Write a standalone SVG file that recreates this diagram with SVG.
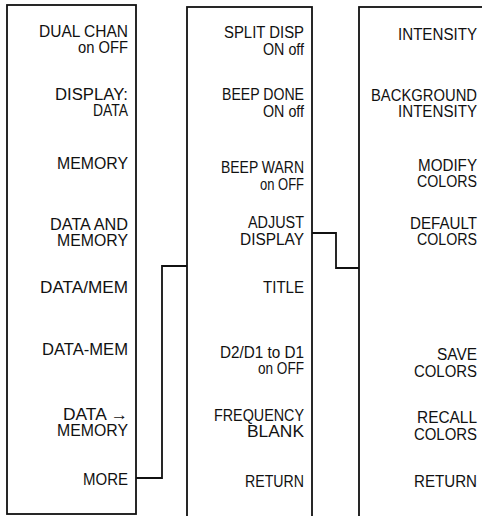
<svg xmlns="http://www.w3.org/2000/svg" width="482" height="516" viewBox="0 0 482 516">
<style>
.box{fill:none;stroke:#111;stroke-width:1.8}
.t{font-family:"Liberation Sans",Arial,sans-serif;font-size:16px;fill:#111;text-anchor:end}
.c{fill:none;stroke:#111;stroke-width:1.8}
</style>
<rect width="482" height="516" fill="#fff"/>
<g id="menu1">
<rect class="box" x="7" y="5" width="129" height="509"/>
<text class="t" x="128" y="37" textLength="89" lengthAdjust="spacingAndGlyphs">DUAL CHAN</text>
<text class="t" x="128" y="53" textLength="50" lengthAdjust="spacingAndGlyphs">on OFF</text>
<text class="t" x="128" y="100" textLength="73" lengthAdjust="spacingAndGlyphs">DISPLAY:</text>
<text class="t" x="128" y="116" textLength="35" lengthAdjust="spacingAndGlyphs">DATA</text>
<text class="t" x="128" y="169" textLength="71" lengthAdjust="spacingAndGlyphs">MEMORY</text>
<text class="t" x="128" y="230" textLength="78" lengthAdjust="spacingAndGlyphs">DATA AND</text>
<text class="t" x="128" y="246" textLength="71" lengthAdjust="spacingAndGlyphs">MEMORY</text>
<text class="t" x="128" y="293" textLength="88" lengthAdjust="spacingAndGlyphs">DATA/MEM</text>
<text class="t" x="128" y="355" textLength="86" lengthAdjust="spacingAndGlyphs">DATA-MEM</text>
<text class="t" x="128" y="420" textLength="65" lengthAdjust="spacingAndGlyphs">DATA →</text>
<text class="t" x="128" y="436" textLength="71" lengthAdjust="spacingAndGlyphs">MEMORY</text>
<text class="t" x="128" y="485" textLength="45" lengthAdjust="spacingAndGlyphs">MORE</text>
</g>
<g id="menu2">
<rect class="box" x="187" y="7" width="125" height="530"/>
<text class="t" x="304" y="38" textLength="80" lengthAdjust="spacingAndGlyphs">SPLIT DISP</text>
<text class="t" x="304" y="55" textLength="41" lengthAdjust="spacingAndGlyphs">ON off</text>
<text class="t" x="304" y="100" textLength="82" lengthAdjust="spacingAndGlyphs">BEEP DONE</text>
<text class="t" x="304" y="117" textLength="41" lengthAdjust="spacingAndGlyphs">ON off</text>
<text class="t" x="304" y="173" textLength="83" lengthAdjust="spacingAndGlyphs">BEEP WARN</text>
<text class="t" x="304" y="190" textLength="44" lengthAdjust="spacingAndGlyphs">on OFF</text>
<text class="t" x="304" y="228" textLength="56" lengthAdjust="spacingAndGlyphs">ADJUST</text>
<text class="t" x="304" y="245" textLength="64" lengthAdjust="spacingAndGlyphs">DISPLAY</text>
<text class="t" x="304" y="293" textLength="41" lengthAdjust="spacingAndGlyphs">TITLE</text>
<text class="t" x="304" y="358" textLength="84" lengthAdjust="spacingAndGlyphs">D2/D1 to D1</text>
<text class="t" x="304" y="374" textLength="46" lengthAdjust="spacingAndGlyphs">on OFF</text>
<text class="t" x="304" y="421" textLength="90" lengthAdjust="spacingAndGlyphs">FREQUENCY</text>
<text class="t" x="304" y="437" textLength="57" lengthAdjust="spacingAndGlyphs">BLANK</text>
<text class="t" x="304" y="487" textLength="59" lengthAdjust="spacingAndGlyphs">RETURN</text>
</g>
<g id="menu3">
<rect class="box" x="359" y="7" width="150" height="530"/>
<text class="t" x="477" y="40" textLength="79" lengthAdjust="spacingAndGlyphs">INTENSITY</text>
<text class="t" x="477" y="101" textLength="106" lengthAdjust="spacingAndGlyphs">BACKGROUND</text>
<text class="t" x="477" y="117" textLength="79" lengthAdjust="spacingAndGlyphs">INTENSITY</text>
<text class="t" x="477" y="171" textLength="59" lengthAdjust="spacingAndGlyphs">MODIFY</text>
<text class="t" x="477" y="187" textLength="60" lengthAdjust="spacingAndGlyphs">COLORS</text>
<text class="t" x="477" y="229" textLength="67" lengthAdjust="spacingAndGlyphs">DEFAULT</text>
<text class="t" x="477" y="245" textLength="60" lengthAdjust="spacingAndGlyphs">COLORS</text>
<text class="t" x="477" y="360" textLength="40" lengthAdjust="spacingAndGlyphs">SAVE</text>
<text class="t" x="477" y="377" textLength="63" lengthAdjust="spacingAndGlyphs">COLORS</text>
<text class="t" x="477" y="423" textLength="60" lengthAdjust="spacingAndGlyphs">RECALL</text>
<text class="t" x="477" y="440" textLength="63" lengthAdjust="spacingAndGlyphs">COLORS</text>
<text class="t" x="477" y="487" textLength="63" lengthAdjust="spacingAndGlyphs">RETURN</text>
</g>
<g id="connectors">
<polyline class="c" points="136,478 162,478 162,266 187,266"/>
<polyline class="c" points="312,233 336,233 336,268 359,268"/>
</g>
</svg>
